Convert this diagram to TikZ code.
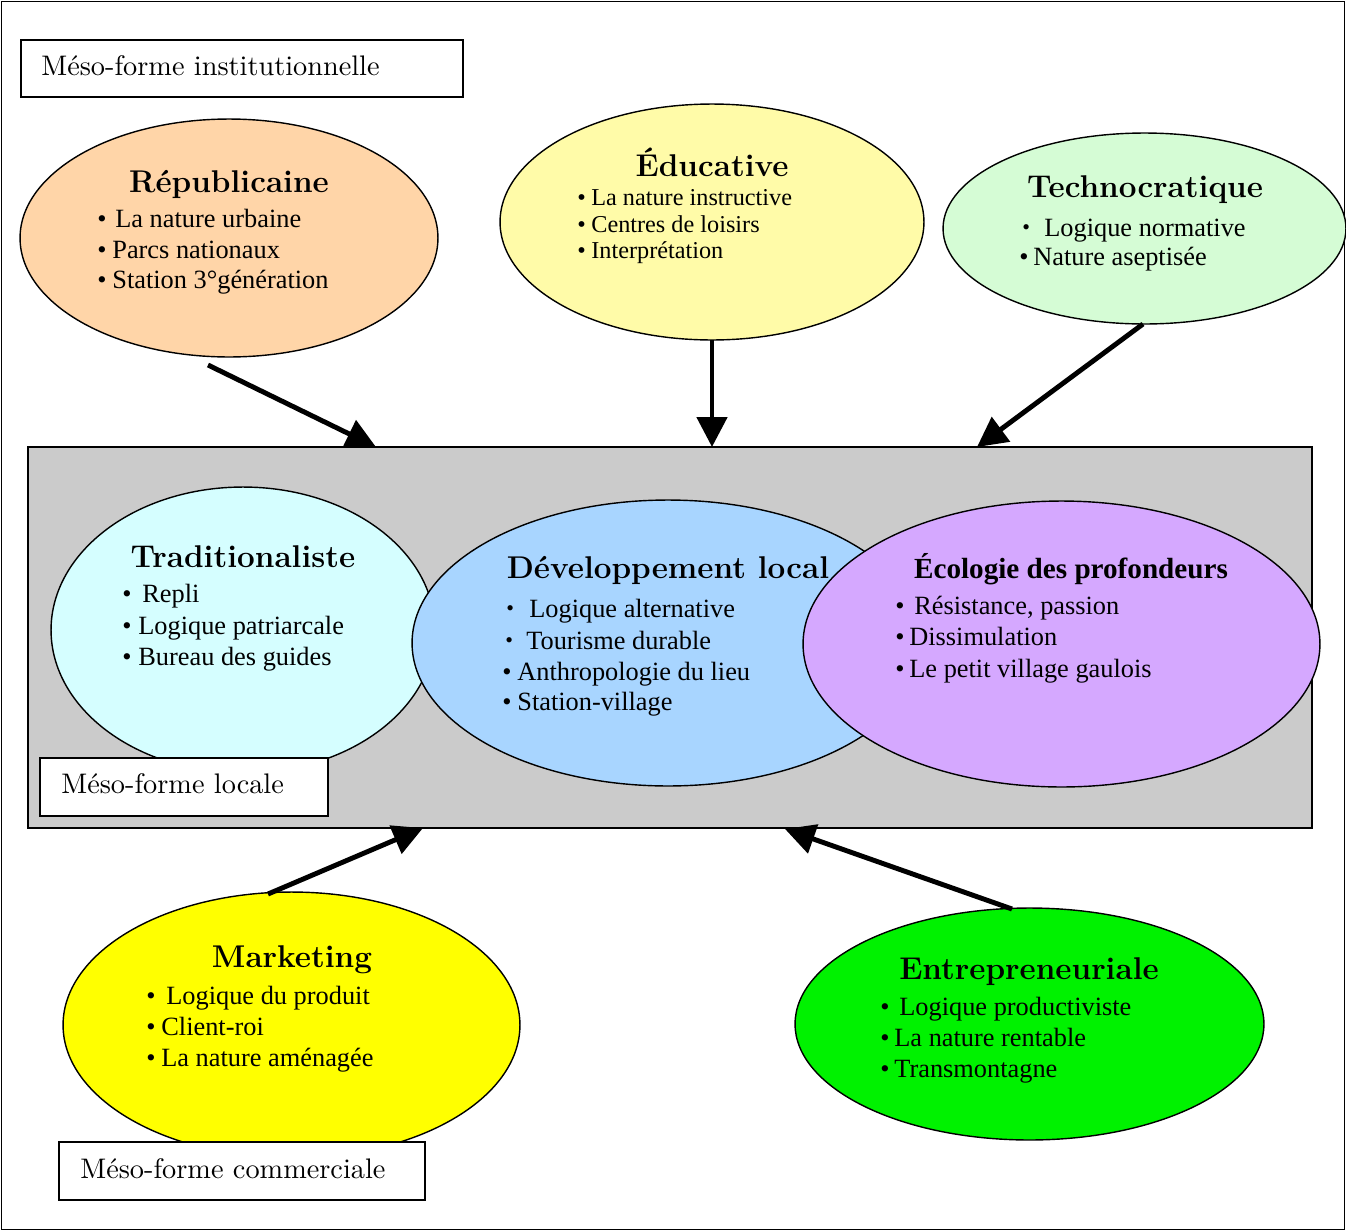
\documentclass[tikz,border=0pt]{standalone}
\usepackage{fontspec}
\newfontfamily\bodyfont{Liberation Serif}
\newfontfamily\lmten{lmroman10-regular.otf}
\usetikzlibrary{arrows.meta,shapes.geometric}
\definecolor{cRep}{HTML}{FFD5A8}
\definecolor{cEdu}{HTML}{FFFBA8}
\definecolor{cTec}{HTML}{D5FCD5}
\definecolor{cGray}{HTML}{CBCBCB}
\definecolor{cTra}{HTML}{D5FEFF}
\definecolor{cDev}{HTML}{A8D5FF}
\definecolor{cEco}{HTML}{D5A8FF}
\definecolor{cMkt}{HTML}{FFFF00}
\definecolor{cEnt}{HTML}{00F200}
\newcommand{\smbul}{\raisebox{1pt}{\fontsize{12.5}{14}\selectfont\textbullet}}
\tikzset{
  ell/.style={ellipse, draw=black, line width=0.8pt, inner sep=0pt},
  ttl/.style={anchor=base, inner sep=0pt, font=\fontsize{17.9}{21}\selectfont\bfseries},
  ttlb/.style={anchor=base, inner sep=0pt, font=\bodyfont\fontsize{16.6}{19}\selectfont\bfseries},
  txt/.style={anchor=base west, inner sep=0pt, font=\bodyfont\fontsize{15}{18}\selectfont},
  txts/.style={anchor=base west, inner sep=0pt, font=\bodyfont\fontsize{13.8}{16}\selectfont},
  lbl/.style={anchor=base west, inner sep=0pt, font=\lmten\fontsize{16.1}{19}\selectfont},
  lblbox/.style={draw=black, line width=1pt, fill=white},
  arr/.style={line width=2.8pt, -{Triangle[length=17pt,width=17pt]}},
}
\begin{document}
\begin{tikzpicture}[x=0.02cm, y=-0.02cm]
\useasboundingbox (0,0) rectangle (1346,1231);
% outer frame
\draw[line width=0.9pt] (1.5,1.5) rectangle (1344.5,1229.5);

% institutional label
\draw[lblbox] (21,40) rectangle (463,97);
\node[lbl] (linst) at (41,75) {Méso-forme institutionnelle};

% Républicaine
\node[ell, fill=cRep, minimum width=8.36cm, minimum height=4.76cm] (rep) at (229,238) {};
\node[ttl] (repT) at (229,192) {Républicaine};
\node[txt] (rep1b) at (97,227) {\textbullet};
\node[txt] (rep1) at (115,227) {La nature urbaine};
\node[txt] (rep2b) at (97,258) {\textbullet};
\node[txt] (rep2) at (112,258) {Parcs nationaux};
\node[txt] (rep3b) at (97,288) {\textbullet};
\node[txt] (rep3) at (112,288) {Station 3°génération};

% Éducative
\node[ell, fill=cEdu, minimum width=8.48cm, minimum height=4.72cm] (edu) at (712,222) {};
\node[ttl] (eduT) at (712,176) {Éducative};
\node[txts] (edu1b) at (577,205) {\textbullet};
\node[txts] (edu1) at (591,205) {La nature instructive};
\node[txts] (edu2b) at (577,232) {\textbullet};
\node[txts] (edu2) at (591,232) {Centres de loisirs};
\node[txts] (edu3b) at (577,258) {\textbullet};
\node[txts] (edu3) at (591,258) {Interprétation};

% Technocratique
\node[ell, fill=cTec, minimum width=8.06cm, minimum height=3.82cm] (tec) at (1144.5,228.5) {};
\node[ttl] (tecT) at (1145,197) {Technocratique};
\node[txt] (tec1b) at (1022,236) {\smbul};
\node[txt] (tec1) at (1044,236) {Logique normative};
\node[txt] (tec2b) at (1019,265) {\textbullet};
\node[txt] (tec2) at (1033,265) {Nature aseptisée};

% Marketing
\node[ell, fill=cMkt, minimum width=9.14cm, minimum height=5.32cm] (mkt) at (291.5,1025) {};
\node[ttl] (mktT) at (292,967) {Marketing};
\node[txt] (mkt1b) at (146,1004) {\textbullet};
\node[txt] (mkt1) at (166,1004) {Logique du produit};
\node[txt] (mkt2b) at (146,1035) {\textbullet};
\node[txt] (mkt2) at (161,1035) {Client-roi};
\node[txt] (mkt3b) at (146,1066) {\textbullet};
\node[txt] (mkt3) at (161,1066) {La nature aménagée};

% commercial label
\draw[lblbox] (59,1142) rectangle (425,1200);
\node[lbl] (lcom) at (80,1178) {Méso-forme commerciale};

% Entrepreneuriale
\node[ell, fill=cEnt, minimum width=9.38cm, minimum height=4.64cm] (ent) at (1029.5,1024) {};
\node[ttl] (entT) at (1029,979) {Entrepreneuriale};
\node[txt] (ent1b) at (880,1015) {\textbullet};
\node[txt] (ent1) at (899,1015) {Logique productiviste};
\node[txt] (ent2b) at (880,1046) {\textbullet};
\node[txt] (ent2) at (894,1046) {La nature rentable};
\node[txt] (ent3b) at (880,1077) {\textbullet};
\node[txt] (ent3) at (894,1077) {Transmontagne};

% local block
\node[draw=black, line width=0.9pt, fill=cGray, inner sep=0pt, minimum width=25.68cm, minimum height=7.62cm] (loc) at (670,637.5) {};

% Traditionaliste
\node[ell, fill=cTra, minimum width=7.68cm, minimum height=5.72cm] (tra) at (243,630) {};
\node[ttl] (traT) at (243,567) {Traditionaliste};
\node[txt] (tra1b) at (122,602) {\textbullet};
\node[txt] (tra1) at (142,602) {Repli};
\node[txt] (tra2b) at (122,634) {\textbullet};
\node[txt] (tra2) at (138,634) {Logique patriarcale};
\node[txt] (tra3b) at (122,665) {\textbullet};
\node[txt] (tra3) at (138,665) {Bureau des guides};

% Développement local
\node[ell, fill=cDev, minimum width=10.24cm, minimum height=5.72cm] (dev) at (668,643) {};
\node[ttl] (devT) at (668,578) {Développement local};
\node[txt] (dev1b) at (506,617) {\smbul};
\node[txt] (dev1) at (529,617) {Logique alternative};
\node[txt] (dev2b) at (505,649) {\smbul};
\node[txt] (dev2) at (526,649) {Tourisme durable};
\node[txt] (dev3b) at (502,680) {\textbullet};
\node[txt] (dev3) at (517,680) {Anthropologie du lieu};
\node[txt] (dev4b) at (502,710) {\textbullet};
\node[txt] (dev4) at (517,710) {Station-village};

% Écologie des profondeurs
\node[ell, fill=cEco, minimum width=10.34cm, minimum height=5.72cm] (eco) at (1061.5,644) {};
\node[ttlb] (ecoT) at (1071,578) {Écologie des profondeurs};
\node[txt] (eco1b) at (895,614) {\textbullet};
\node[txt] (eco1) at (914,614) {Résistance, passion};
\node[txt] (eco2b) at (895,645) {\textbullet};
\node[txt] (eco2) at (909,645) {Dissimulation};
\node[txt] (eco3b) at (895,677) {\textbullet};
\node[txt] (eco3) at (909,677) {Le petit village gaulois};

% local label
\draw[lblbox] (40,758) rectangle (328,816);
\node[lbl] (lloc) at (61,793) {Méso-forme locale};

% arrows
\coordinate (aRepS) at (208,365);
\coordinate (aRepE) at (376,447);
\coordinate (aEduS) at (712,340);
\coordinate (aEduE) at (712,447);
\coordinate (aTecS) at (1143,324);
\coordinate (aTecE) at (977,447);
\coordinate (aMktS) at (268,894);
\coordinate (aMktE) at (423,828);
\coordinate (aEntS) at (1012,909);
\coordinate (aEntE) at (785,829);
\draw[arr] (aRepS) -- (aRepE);
\draw[arr] (aEduS) -- (aEduE);
\draw[arr] (aTecS) -- (aTecE);
\draw[arr] (aMktS) -- (aMktE);
\draw[arr] (aEntS) -- (aEntE);
\end{tikzpicture}
\end{document}
